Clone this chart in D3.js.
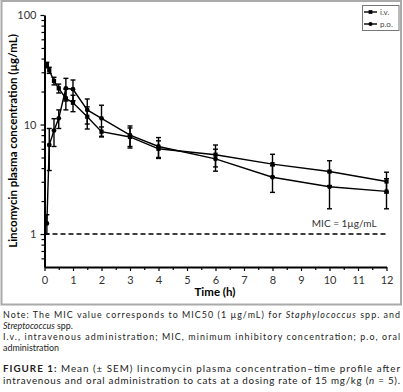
<html>
<script src="https://d3js.org/d3.v7.min.js"></script>
<style>
  body { margin: 0; background: #fff; }
  svg { display: block; }
  text { font-family: Lato, "Open Sans", sans-serif; }
  .cap { font-family: Lato, "Noto Sans", sans-serif; fill: #222; }
</style>
<svg width=403 height=392></svg>
<script>
    // sampling times (h) and mean +/- SEM concentrations (µg/mL)
    let times = [0.083, 0.167, 0.333, 0.5, 0.75, 1, 1.5, 2, 3, 4, 6, 8, 10, 12];
    let ivMean = [35, 31.3, 25, 21.4, 17.3, 15.8, 11.8, 8.6, 7.7, 6.0, 5.3, 4.35, 3.72, 3.02];
    let ivSem  = [2, 2, 2, 2, 3.7, 2.7, 2.7, 0.9, 1.6, 1.1, 1.2, 1.0, 0.95, 0.65];
    let poMean = [1.25, 6.5, 8.8, 11.4, 21.4, 21.0, 13.6, 11.4, 8.0, 6.3, 4.85, 3.3, 2.7, 2.45];
    let poSem  = [0.25, 2.7, 2.5, 2.2, 5, 4.5, 3.5, 3.6, 1.7, 1.3, 1.1, 0.9, 1.0, 0.75];
    let xTicks = d3.range(0, 13);
    let yTicks = [1, 10, 100];
    let mic = 1;

    let svg = d3.select('svg');

    // grey frame round the chart
    svg.append('rect')
        .attr('x', 1.5).attr('y', 1)
        .attr('width', 399.5).attr('height', 303.5)
        .attr('fill', 'none').attr('stroke', '#aaa').attr('stroke-width', 2);

    let x = d3.scaleLinear().domain([0, 12]).range([44.5, 386.5]);
    let y = d3.scaleLog().domain([0.5, 100]).range([267, 15]);

    // x axis + half-hour minor ticks
    let gx = svg.append('g')
        .attr('transform', 'translate(0,267)')
        .call(d3.axisBottom(x).tickValues(xTicks).tickSize(4).tickSizeOuter(0).tickFormat(d3.format('d')));
    svg.append('g')
        .attr('transform', 'translate(0,267)')
        .call(d3.axisBottom(x).tickValues(d3.range(0.5, 12, 1)).tickSize(3).tickFormat(''))
        .select('.domain').remove();

    // log y axis + minor ticks
    let gy = svg.append('g')
        .attr('transform', 'translate(44.5,0)')
        .call(d3.axisLeft(y).tickValues(yTicks).tickSize(4).tickSizeOuter(0).tickFormat(d3.format('d')));
    let minor = [];
    [0.1, 1, 10].forEach(b => d3.range(2, 10).forEach(k => { let v = b * k; if (v > 0.5 && v < 100) minor.push(v); }));
    svg.append('g')
        .attr('transform', 'translate(44.5,0)')
        .call(d3.axisLeft(y).tickValues(minor).tickSize(3).tickFormat(''))
        .select('.domain').remove();

    svg.selectAll('.domain').attr('stroke-width', 2);
    svg.selectAll('.tick line').attr('stroke-width', 1.2);
    gx.selectAll('.tick text').attr('font-size', 11).attr('fill', '#333').attr('dy', '0.9em');
    gy.selectAll('.tick text').attr('font-size', 11).attr('fill', '#333').attr('dx', '-0.1em');

    // axis titles
    svg.append('text')
        .attr('x', 215).attr('y', 296)
        .attr('text-anchor', 'middle')
        .attr('font-size', 11.5).attr('font-weight', 'bold')
        .text('Time (h)');
    svg.append('text')
        .attr('transform', 'translate(17,141) rotate(-90)')
        .attr('text-anchor', 'middle')
        .attr('font-size', 11.5).attr('font-weight', 'bold')
        .text('Lincomycin plasma concentration (µg/mL)');

    // MIC line
    svg.append('line')
        .attr('x1', x(0)).attr('x2', x(12))
        .attr('y1', y(mic)).attr('y2', y(mic))
        .attr('stroke', 'black').attr('stroke-width', 1.5)
        .attr('stroke-dasharray', '5,3');
    svg.append('text')
        .attr('x', x(11.65)).attr('y', y(mic) - 7)
        .attr('text-anchor', 'end')
        .attr('font-size', 10).attr('fill', '#333')
        .text('MIC = 1µg/mL');

    let series = [
        { name: 'i.v.', mean: ivMean, sem: ivSem, shape: d3.symbolSquare, size: 18 },
        { name: 'p.o.', mean: poMean, sem: poSem, shape: d3.symbolCircle, size: 18 }
    ];

    let line = d3.line().x(d => x(d.t)).y(d => y(d.v));

    series.forEach(s => {
        let pts = times.map((t, i) => ({ t: t, v: s.mean[i], e: s.sem[i] }));
        let g = svg.append('g');
        g.append('path')
            .datum(pts)
            .attr('d', line)
            .attr('fill', 'none').attr('stroke', 'black').attr('stroke-width', 1.4);
        let eb = g.selectAll('.eb').data(pts).enter().append('g');
        eb.append('line')
            .attr('x1', d => x(d.t)).attr('x2', d => x(d.t))
            .attr('y1', d => y(d.v + d.e)).attr('y2', d => y(Math.max(d.v - d.e, 0.55)))
            .attr('stroke', 'black').attr('stroke-width', 1.4);
        eb.append('line')
            .attr('x1', d => x(d.t) - 2.5).attr('x2', d => x(d.t) + 2.5)
            .attr('y1', d => y(d.v + d.e)).attr('y2', d => y(d.v + d.e))
            .attr('stroke', 'black').attr('stroke-width', 1.4);
        eb.append('line')
            .attr('x1', d => x(d.t) - 2.5).attr('x2', d => x(d.t) + 2.5)
            .attr('y1', d => y(d.v - d.e)).attr('y2', d => y(d.v - d.e))
            .attr('stroke', 'black').attr('stroke-width', 1.4);
        g.selectAll('.pt').data(pts).enter().append('path')
            .attr('transform', d => 'translate(' + x(d.t) + ',' + y(d.v) + ')')
            .attr('d', d3.symbol().type(s.shape).size(s.size))
            .attr('fill', 'black');
    });

    // legend
    let lg = svg.append('g');
    lg.append('rect')
        .attr('x', 362.5).attr('y', 5.5).attr('width', 36.5).attr('height', 25)
        .attr('fill', 'white').attr('stroke', '#777').attr('stroke-width', 1);
    series.forEach((s, i) => {
        let yy = 12 + i * 12;
        lg.append('line')
            .attr('x1', 364).attr('x2', 377).attr('y1', yy).attr('y2', yy)
            .attr('stroke', 'black').attr('stroke-width', 1.4);
        lg.append('path')
            .attr('transform', 'translate(370.5,' + yy + ')')
            .attr('d', d3.symbol().type(s.shape).size(14))
            .attr('fill', 'black');
        lg.append('text')
            .attr('x', 380).attr('y', yy + 3)
            .attr('font-size', 8).attr('fill', '#444')
            .attr('font-family', 'Liberation Sans, Arial, sans-serif')
            .text(s.name);
    });

    // notes and caption below the chart
    function capLine(yy, size, parts, justify) {
        let t = svg.append('text').attr('class', 'cap')
            .attr('x', 3).attr('y', yy).attr('font-size', size);
        if (justify) t.attr('textLength', 397).attr('lengthAdjust', 'spacing');
        parts.forEach(p => {
            let ts = t.append('tspan').text(p[0]);
            if (p[1] === 'i') ts.attr('font-style', 'italic');
            if (p[1] === 'b') ts.attr('font-weight', 'bold');
        });
    }
    capLine(318, 8.9, [['Note: The MIC value corresponds to MIC50 (1 µg/mL) for '], ['Staphylococcus', 'i'], [' spp. and']], true);
    capLine(329, 8.9, [['Streptococcus', 'i'], [' spp.']], false);
    capLine(340, 8.9, [['I.v., intravenous administration; MIC, minimum inhibitory concentration; p.o, oral']], true);
    capLine(351, 8.9, [['administration']], false);
    capLine(372, 9.8, [['FIGURE 1:', 'b'], [' Mean (± SEM) lincomycin plasma concentration–time profile after']], true);
    capLine(384, 9.8, [['intravenous and oral administration to cats at a dosing rate of 15 mg/kg ('], ['n', 'i'], [' = 5).']], true);
</script>
</html>
